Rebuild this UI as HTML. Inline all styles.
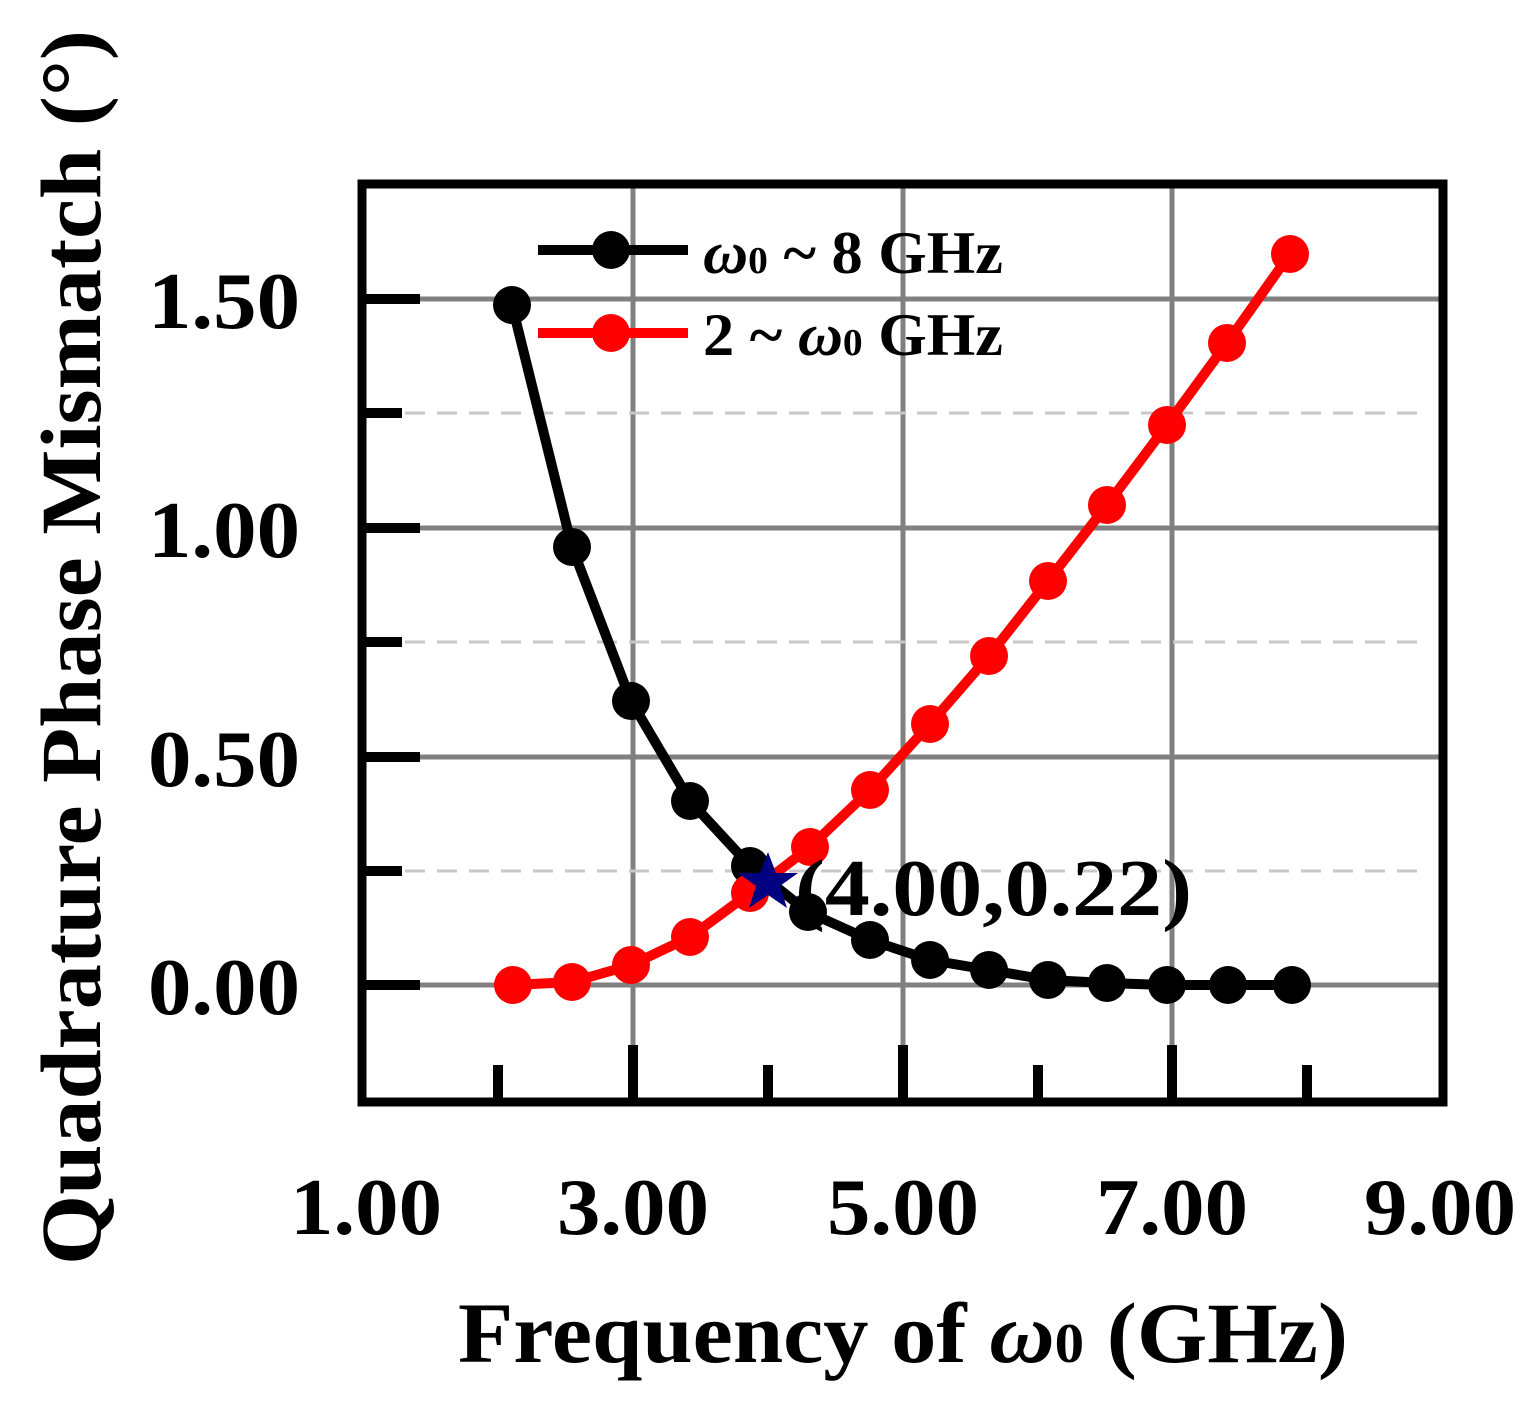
<!DOCTYPE html>
<html><head><style>body{margin:0;background:#fff}svg{display:block}</style></head><body>
<svg width="1528" height="1402" viewBox="0 0 1528 1402" xmlns="http://www.w3.org/2000/svg" font-family="Liberation Serif, serif" font-weight="bold">
<g stroke="#808080" stroke-width="5">
<line x1="633" y1="186" x2="633" y2="1100"/><line x1="903" y1="186" x2="903" y2="1100"/><line x1="1172" y1="186" x2="1172" y2="1100"/>
<line x1="400" y1="299" x2="1440" y2="299"/><line x1="400" y1="528" x2="1440" y2="528"/><line x1="400" y1="757" x2="1440" y2="757"/><line x1="400" y1="985" x2="1440" y2="985"/>
</g>
<g stroke="#c8c8c8" stroke-width="3" stroke-dasharray="20,12">
<line x1="405" y1="413" x2="1420" y2="413"/><line x1="405" y1="642" x2="1420" y2="642"/><line x1="405" y1="871" x2="1420" y2="871"/>
</g>
<g stroke="#000" stroke-width="10">
<line x1="360" y1="299" x2="420" y2="299"/><line x1="360" y1="528" x2="420" y2="528"/><line x1="360" y1="757" x2="420" y2="757"/><line x1="360" y1="985" x2="420" y2="985"/>
<line x1="360" y1="413" x2="402" y2="413"/><line x1="360" y1="642" x2="402" y2="642"/><line x1="360" y1="871" x2="402" y2="871"/>
<line x1="633" y1="1045" x2="633" y2="1104"/><line x1="903" y1="1045" x2="903" y2="1104"/><line x1="1172" y1="1045" x2="1172" y2="1104"/>
<line x1="498" y1="1065" x2="498" y2="1104"/><line x1="768" y1="1065" x2="768" y2="1104"/><line x1="1038" y1="1065" x2="1038" y2="1104"/><line x1="1307" y1="1065" x2="1307" y2="1104"/>
</g>
<rect x="362" y="184" width="1081" height="918" fill="none" stroke="#000" stroke-width="9"/>
<polyline fill="none" stroke="#000" stroke-width="10" points="512,305 572,547 631,701 690,801 750,866 808,912 870,940 930,960 989,970 1048,980 1107,983 1167,985 1228,985 1292,985"/>
<g fill="#000"><circle cx="512" cy="305" r="19"/><circle cx="572" cy="547" r="19"/><circle cx="631" cy="701" r="19"/><circle cx="690" cy="801" r="19"/><circle cx="750" cy="866" r="19"/><circle cx="808" cy="912" r="19"/><circle cx="870" cy="940" r="19"/><circle cx="930" cy="960" r="19"/><circle cx="989" cy="970" r="19"/><circle cx="1048" cy="980" r="19"/><circle cx="1107" cy="983" r="19"/><circle cx="1167" cy="985" r="19"/><circle cx="1228" cy="985" r="19"/><circle cx="1292" cy="985" r="19"/></g>
<polyline fill="none" stroke="#f00" stroke-width="10" points="513,985 572,982 631,965 690,937 750,893 810,847 870,790 930,724 989,656 1048,581 1107,505 1167,425 1227,343 1290,254"/>
<g fill="#f00"><circle cx="513" cy="985" r="19"/><circle cx="572" cy="982" r="19"/><circle cx="631" cy="965" r="19"/><circle cx="690" cy="937" r="19"/><circle cx="750" cy="893" r="19"/><circle cx="810" cy="847" r="19"/><circle cx="870" cy="790" r="19"/><circle cx="930" cy="724" r="19"/><circle cx="989" cy="656" r="19"/><circle cx="1048" cy="581" r="19"/><circle cx="1107" cy="505" r="19"/><circle cx="1167" cy="425" r="19"/><circle cx="1227" cy="343" r="19"/><circle cx="1290" cy="254" r="19"/></g>
<polygon fill="#000080" points="768,852 776,873 798,873 780,886 787,908 768,895 749,908 756,886 738,873 760,873"/>
<text x="795" y="915" font-size="80" textLength="397" lengthAdjust="spacingAndGlyphs">(4.00,0.22)</text>
<line x1="538" y1="250" x2="688" y2="250" stroke="#000" stroke-width="10"/><circle cx="611" cy="250" r="19" fill="#000"/>
<line x1="538" y1="333" x2="688" y2="333" stroke="#f00" stroke-width="10"/><circle cx="611" cy="333" r="19" fill="#f00"/>
<text x="703" y="273" font-size="60" textLength="300" lengthAdjust="spacingAndGlyphs"><tspan font-style="italic">ω</tspan><tspan font-size="38">0</tspan> ~ 8 GHz</text>
<text x="703" y="355" font-size="60" textLength="300" lengthAdjust="spacingAndGlyphs">2 ~ <tspan font-style="italic">ω</tspan><tspan font-size="38">0</tspan> GHz</text>
<g font-size="80">
<text x="148" y="328" textLength="152" lengthAdjust="spacingAndGlyphs">1.50</text><text x="148" y="557" textLength="152" lengthAdjust="spacingAndGlyphs">1.00</text><text x="148" y="786" textLength="152" lengthAdjust="spacingAndGlyphs">0.50</text><text x="148" y="1014" textLength="152" lengthAdjust="spacingAndGlyphs">0.00</text>
</g>
<g font-size="80">
<text x="290" y="1234" textLength="152" lengthAdjust="spacingAndGlyphs">1.00</text><text x="557" y="1234" textLength="152" lengthAdjust="spacingAndGlyphs">3.00</text><text x="827" y="1234" textLength="152" lengthAdjust="spacingAndGlyphs">5.00</text><text x="1096" y="1234" textLength="152" lengthAdjust="spacingAndGlyphs">7.00</text><text x="1364" y="1234" textLength="152" lengthAdjust="spacingAndGlyphs">9.00</text>
</g>
<text x="458" y="1362" font-size="86" textLength="890" lengthAdjust="spacingAndGlyphs">Frequency of <tspan font-style="italic">ω</tspan><tspan font-size="56">0</tspan> (GHz)</text>
<text transform="translate(100,1265) rotate(-90)" font-size="86" textLength="1235" lengthAdjust="spacingAndGlyphs">Quadrature Phase Mismatch (°)</text>
</svg>
</body></html>
